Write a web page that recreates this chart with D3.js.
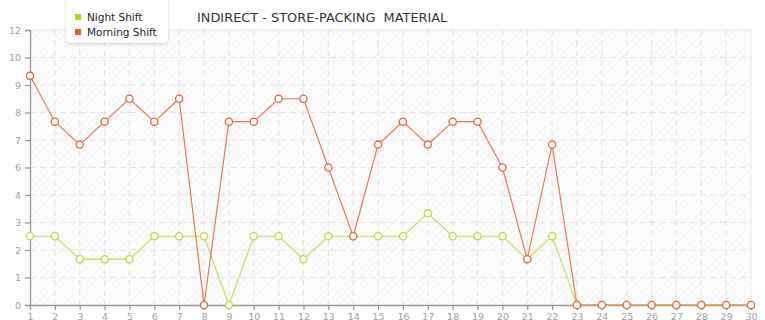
<!doctype html>
<html lang="en">
<head>
  <meta charset="UTF-8">
  <title>Indirect - store-packing material</title>
  <script src="https://cdnjs.cloudflare.com/ajax/libs/d3/7.8.5/d3.min.js"></script>
  <style>
  body { margin: 0; background: #fff; }
  svg { display: block; font-family: "DejaVu Sans", Verdana, sans-serif; }
  </style>
</head>
<body>
<script>

// days of the month, 1..30
var days = d3.range(1, 31);

var nightShift = [3, 3, 2, 2, 2, 3, 3, 3, 0, 3, 3, 2, 3, 3, 3,
                  3, 4, 3, 3, 3, 2, 3, 0, 0, 0, 0, 0, 0, 0, 0];
var morningShift = [10, 8, 7, 8, 9, 8, 9, 0, 8, 8, 9, 9, 6, 3, 7,
                    8, 7, 8, 8, 6, 2, 7, 0, 0, 0, 0, 0, 0, 0, 0];

// the y axis is split in 10 equal steps up to 12, labels floored
var yMax = 12;
var yTicks = d3.range(0, 11).map(function(i) { return i * yMax / 10; });

var series = [
  { name: 'Night Shift', values: nightShift, line: '#c8e04a', dot: '#bcd83a', key: '#b8d628' },
  { name: 'Morning Shift', values: morningShift, line: '#ea7a4e', dot: '#e2693a', key: '#e0622a' }
];

var w = 765;
var h = 320;
var margin = { top: 30, right: 14, bottom: 15, left: 30 };

var svg = d3.select('body')
  .append('svg')
  .attr('width', w)
  .attr('height', h);

var x = d3.scaleLinear()
  .domain([1, 30])
  .range([margin.left, w - margin.right]);

var y = d3.scaleLinear()
  .domain([0, yMax])
  .range([h - margin.bottom, margin.top]);

// hatched plot background
var defs = svg.append('defs');
var pat = defs.append('pattern')
  .attr('id', 'hatch')
  .attr('width', 5)
  .attr('height', 5)
  .attr('patternUnits', 'userSpaceOnUse')
  .attr('patternTransform', 'rotate(45)');
pat.append('rect').attr('width', 5).attr('height', 5).attr('fill', '#fbfbfb');
pat.append('line')
  .attr('x1', 0).attr('y1', 0).attr('x2', 0).attr('y2', 5)
  .attr('stroke', '#efefef')
  .attr('stroke-width', 1.2);

var shadow = defs.append('filter').attr('id', 'shadow')
  .attr('x', '-20%').attr('y', '-20%').attr('width', '140%').attr('height', '160%');
shadow.append('feDropShadow')
  .attr('dx', 0).attr('dy', 1).attr('stdDeviation', 1.5)
  .attr('flood-color', '#000').attr('flood-opacity', 0.18);

svg.append('rect')
  .attr('x', x(1))
  .attr('y', y(yMax))
  .attr('width', x(30) - x(1))
  .attr('height', y(0) - y(yMax))
  .attr('fill', 'url(#hatch)');

// right and top border of the plot
svg.append('path')
  .attr('d', 'M' + x(1) + ',' + y(yMax) + 'H' + x(30) + 'V' + y(0))
  .attr('fill', 'none')
  .attr('stroke', '#e6e6e6');

// grid lines
svg.append('g')
  .selectAll('line')
  .data(days.slice(1, 29))
  .enter()
  .append('line')
  .attr('x1', function(d) { return x(d); })
  .attr('x2', function(d) { return x(d); })
  .attr('y1', y(yMax))
  .attr('y2', y(0))
  .attr('stroke', '#e3e3e3')
  .attr('stroke-width', 1.2)
  .attr('stroke-dasharray', '6,4');

svg.append('g')
  .selectAll('line')
  .data(yTicks.slice(1, 10))
  .enter()
  .append('line')
  .attr('x1', x(1))
  .attr('x2', x(30))
  .attr('y1', function(d) { return y(d); })
  .attr('y2', function(d) { return y(d); })
  .attr('stroke', '#e3e3e3')
  .attr('stroke-width', 1.2)
  .attr('stroke-dasharray', '6,4');

// axes
var yAxis = d3.axisLeft(y)
  .tickValues(yTicks)
  .tickSize(5)
  .tickPadding(4)
  .tickFormat(function(d) { return Math.floor(d + 1e-9); });

var xAxis = d3.axisBottom(x)
  .tickValues(days)
  .tickSize(5)
  .tickPadding(3)
  .tickFormat(d3.format('d'));

var gy = svg.append('g')
  .attr('transform', 'translate(' + x(1) + ',0)')
  .call(yAxis);

var gx = svg.append('g')
  .attr('transform', 'translate(0,' + y(0) + ')')
  .call(xAxis);

[gx, gy].forEach(function(g) {
  g.select('.domain').attr('stroke', '#999').attr('stroke-width', 1.3);
  g.selectAll('.tick line').attr('stroke', '#999').attr('stroke-width', 1.3);
  g.selectAll('.tick text')
    .attr('fill', '#a0a0a0')
    .attr('font-size', '9.5px')
    .attr('font-family', '"DejaVu Sans", Verdana, sans-serif');
});

// lines and markers
var line = d3.line()
  .x(function(d, i) { return x(days[i]); })
  .y(function(d) { return y(d); });

series.forEach(function(s) {
  svg.append('path')
    .datum(s.values)
    .attr('d', line)
    .attr('fill', 'none')
    .attr('stroke', s.line)
    .attr('stroke-width', 1.2);

  svg.append('g')
    .selectAll('circle')
    .data(s.values)
    .enter()
    .append('circle')
    .attr('cx', function(d, i) { return x(days[i]); })
    .attr('cy', function(d) { return y(d); })
    .attr('r', 3.6)
    .attr('fill', '#fff')
    .attr('stroke', s.dot)
    .attr('stroke-width', 1.3);
});

// title
svg.append('text')
  .attr('x', 197)
  .attr('y', 22)
  .attr('xml:space', 'preserve')
  .style('white-space', 'pre')
  .attr('font-size', '12.9px')
  .attr('fill', '#333')
  .text('INDIRECT - STORE-PACKING  MATERIAL');

// legend
var legend = svg.append('g');
legend.append('rect')
  .attr('x', 66)
  .attr('y', -6)
  .attr('width', 102)
  .attr('height', 49)
  .attr('rx', 5)
  .attr('fill', '#fff')
  .attr('filter', 'url(#shadow)');

var item = legend.selectAll('g.item')
  .data(series)
  .enter()
  .append('g')
  .attr('class', 'item')
  .attr('transform', function(d, i) { return 'translate(75,' + (14 + i * 15) + ')'; });

item.append('rect')
  .attr('width', 6)
  .attr('height', 6)
  .attr('fill', function(d) { return d.key; });

item.append('text')
  .attr('x', 12)
  .attr('y', 7)
  .attr('font-size', '10.5px')
  .attr('fill', '#222')
  .text(function(d) { return d.name; });

</script>
</body>
</html>
